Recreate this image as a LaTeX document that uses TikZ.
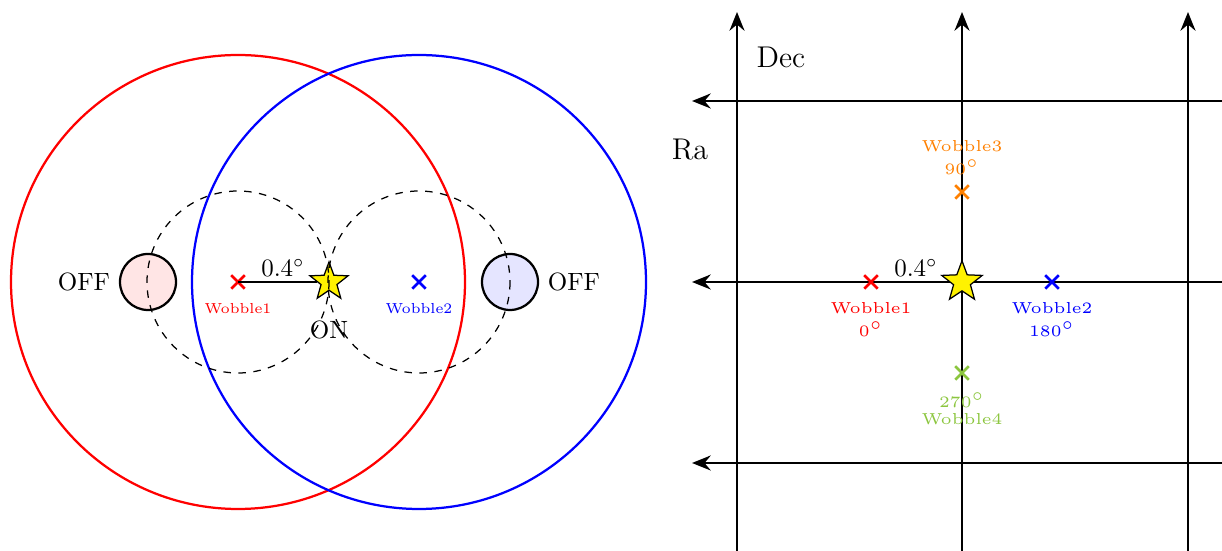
\documentclass[tikz,border=0pt]{standalone}
\usetikzlibrary{shapes.geometric,shapes.misc,arrows.meta}
\definecolor{wgreen}{RGB}{140,198,63}
\definecolor{worange}{RGB}{255,128,0}
\begin{document}
\begin{tikzpicture}[x=0.4pt,y=-0.4pt,
  cr/.style={cross out,draw=#1,line width=1pt,minimum size=4.4pt,inner sep=0pt},
  onstar/.style={star,star points=5,star point ratio=2.4,draw=black,fill=yellow,minimum size=16pt,inner sep=0pt,line width=0.5pt},
  axisline/.style={line width=1pt,-{Stealth[length=7.5pt,width=6pt,inset=2.5pt]}},
  lbl/.style={font=\fontsize{5.8}{6.5}\selectfont,text=#1,inner sep=0pt},
  rlbl/.style={font=\fontsize{5}{5.7}\selectfont,scale=1.27,text=#1,inner sep=0pt},
  offc/.style={circle,draw=black,line width=0.9pt,fill=#1,minimum size=22.4pt,inner sep=0pt},
  bigc/.style={line width=0.9pt,draw=#1},
  dashc/.style={dashed,line width=0.5pt}]
\useasboundingbox (0,0) rectangle (1222,551);
% ---------- left part ----------
\coordinate (c1) at (238,282);
\coordinate (c2) at (419,282);
\draw[bigc=red] (c1) circle[radius=227];
\draw[bigc=blue] (c2) circle[radius=227];
\node[offc=red!10] (off1) at (148,282) {};
\node[offc=blue!10] (off2) at (510,282) {};
\node[anchor=east] (offl1) at (off1.west) {OFF};
\node[anchor=west] (offl2) at (off2.east) {OFF};
\node[cr=red] (w1) at (238,282) {};
\node[cr=blue] (w2) at (419,282) {};
\node[onstar] (on) at (329,282) {};
\draw[line width=0.5pt] (w1.center) -- (on);
\node (d1) at (283,268) {$0.4^\circ$};
\node (onl) at (329,330) {ON};
\node[lbl=red] (wl1) at (238,309) {Wobble1};
\node[lbl=blue] (wl2) at (419,309) {Wobble2};
\draw[dashc] (c1) circle[radius=91];
\draw[dashc] (c2) circle[radius=91];
% ---------- right part ----------
\coordinate (vb1) at (737,551); \coordinate (vt1) at (737,12);
\coordinate (vb2) at (962,551); \coordinate (vt2) at (962,12);
\coordinate (vb3) at (1188,551); \coordinate (vt3) at (1188,12);
\coordinate (hr1) at (1222,101); \coordinate (hl1) at (692,101);
\coordinate (hr2) at (1222,282); \coordinate (hl2) at (692,282);
\coordinate (hr3) at (1222,463); \coordinate (hl3) at (692,463);
\draw[axisline] (vb1) -- (vt1);
\draw[axisline] (vb2) -- (vt2);
\draw[axisline] (vb3) -- (vt3);
\draw[axisline] (hr1) -- (hl1);
\draw[axisline] (hr2) -- (hl2);
\draw[axisline] (hr3) -- (hl3);
\node[font=\large] (dec) at (781,57) {Dec};
\node[font=\large] (ra) at (690,150) {Ra};
\node[onstar,minimum size=17pt] (onr) at (962,282) {};
\node (d2) at (916,268) {$0.4^\circ$};
\node[cr=red] (rw1) at (871,282) {};
\node[cr=blue] (rw2) at (1052,282) {};
\node[cr=worange] (rw3) at (962,192) {};
\node[cr=wgreen] (rw4) at (962,373) {};
\node[rlbl=red] (rl1a) at (871,308) {Wobble1};
\node[rlbl=red] (rl1b) at (871,329) {$0^\circ$};
\node[rlbl=blue] (rl2a) at (1052,308) {Wobble2};
\node[rlbl=blue] (rl2b) at (1052,329) {$180^\circ$};
\node[rlbl=worange] (rl3a) at (962,146) {Wobble3};
\node[rlbl=worange] (rl3b) at (962,167) {$90^\circ$};
\node[rlbl=wgreen] (rl4a) at (962,400) {$270^\circ$};
\node[rlbl=wgreen] (rl4b) at (962,419) {Wobble4};
\end{tikzpicture}
\end{document}
